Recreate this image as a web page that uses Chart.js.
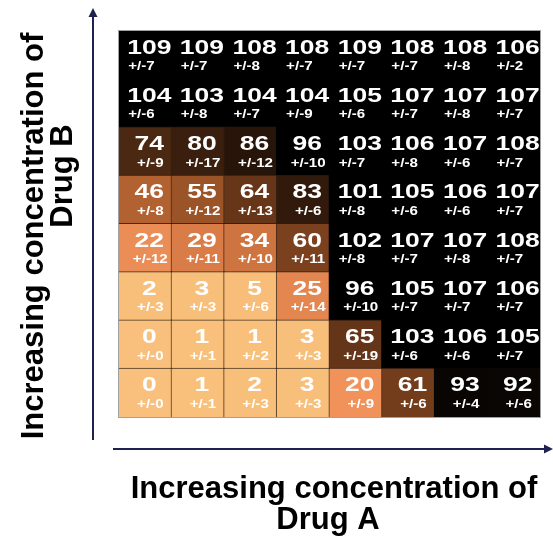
<!DOCTYPE html>
<html lang="en">
<head>
<meta charset="UTF-8">
<title>Drug A / Drug B combination grid</title>
<script src="https://cdn.jsdelivr.net/npm/chart.js"></script>
<style>
  html, body { margin: 0; padding: 0; background: #fff; }
  #wrap { width: 553px; height: 536px; position: relative; }
</style>
</head>
<body>
<div id="wrap"><canvas id="grid" width="553" height="536"></canvas></div>
<script>
// Drug A concentration steps (columns, low -> high)
const drugA = ['A1', 'A2', 'A3', 'A4', 'A5', 'A6', 'A7', 'A8'];
// Drug B concentration steps (rows, listed top = highest)
const drugB = ['B8', 'B7', 'B6', 'B5', 'B4', 'B3', 'B2', 'B1'];

// cell values, one array per row, top row first
const row8 = [109, 109, 108, 108, 109, 108, 108, 106];
const row7 = [104, 103, 104, 104, 105, 107, 107, 107];
const row6 = [74, 80, 86, 96, 103, 106, 107, 108];
const row5 = [46, 55, 64, 83, 101, 105, 106, 107];
const row4 = [22, 29, 34, 60, 102, 107, 107, 108];
const row3 = [2, 3, 5, 25, 96, 105, 107, 106];
const row2 = [0, 1, 1, 3, 65, 103, 106, 105];
const row1 = [0, 1, 2, 3, 20, 61, 93, 92];
const values = [row8, row7, row6, row5, row4, row3, row2, row1];

// +/- spread per cell, same layout
const err8 = [7, 7, 8, 7, 7, 7, 8, 2];
const err7 = [6, 8, 7, 9, 6, 7, 8, 7];
const err6 = [9, 17, 12, 10, 7, 8, 6, 7];
const err5 = [8, 12, 13, 6, 8, 6, 6, 7];
const err4 = [12, 11, 10, 11, 8, 7, 8, 7];
const err3 = [3, 3, 6, 14, 10, 7, 7, 7];
const err2 = [0, 1, 2, 3, 19, 6, 6, 7];
const err1 = [0, 1, 3, 3, 9, 6, 4, 6];
const errors = [err8, err7, err6, err5, err4, err3, err2, err1];

// colour ramp: light orange -> brown -> black
const stops = [
  [0, [248, 192, 124]], [6, [248, 190, 120]], [20, [240, 146, 90]],
  [30, [214, 122, 70]], [46, [178, 98, 48]], [56, [152, 82, 38]],
  [62, [108, 57, 26]], [74, [75, 40, 18]], [86, [40, 21, 9]],
  [92, [10, 6, 4]], [96, [0, 0, 0]], [200, [0, 0, 0]]
];
function cellColor(v) {
  for (let i = 1; i < stops.length; i++) {
    if (v <= stops[i][0]) {
      const [v0, c0] = stops[i - 1], [v1, c1] = stops[i];
      const t = (v - v0) / (v1 - v0);
      const c = c0.map((a, k) => Math.round(a + (c1[k] - a) * t));
      return `rgb(${c[0]},${c[1]},${c[2]})`;
    }
  }
  return '#000';
}

// stacked from the bottom row up, so reverse the row order
const datasets = values.slice().reverse().map((row, i) => ({
  label: drugB[7 - i],
  data: row.map(() => 1),
  vals: row,
  errs: errors[7 - i],
  backgroundColor: row.map(cellColor),
  // dark outlines only show on the lighter cells
  borderColor: row.map(v => v > 88 ? cellColor(v) : 'rgba(45,28,15,0.8)'),
  borderWidth: 1,
  borderSkipped: false,
  inflateAmount: 1,
  categoryPercentage: 1,
  barPercentage: 1
}));

const FONT = '"Liberation Sans", Arial, sans-serif';

const cellText = {
  id: 'cellText',
  afterDatasetsDraw(chart) {
    const ctx = chart.ctx;
    ctx.save();
    ctx.fillStyle = '#fff';
    ctx.textBaseline = 'middle';
    chart.data.datasets.forEach((ds, di) => {
      chart.getDatasetMeta(di).data.forEach((bar, j) => {
        const top = Math.min(bar.y, bar.base);
        const h = Math.abs(bar.base - bar.y);
        const cx = bar.x + 4;
        const num = String(ds.vals[j]);
        const sx = 1.26;
        ctx.font = 'bold 21px ' + FONT;
        const w = ctx.measureText(num).width * sx;
        ctx.save();
        ctx.translate(cx - w / 2, top + h * 0.35);
        ctx.scale(sx, 1);
        ctx.textAlign = 'left';
        ctx.fillText(num, 0, 0);
        ctx.restore();
        const e = '+/-' + ds.errs[j];
        ctx.font = 'bold 12px ' + FONT;
        const we = ctx.measureText(e).width * sx;
        const ex = num.length >= 3 ? cx - w / 2 + 1 : cx - we / 2 + 1;
        ctx.save();
        ctx.translate(ex, top + h * 0.74);
        ctx.scale(sx, 1);
        ctx.fillText(e, 0, 0);
        ctx.restore();
      });
    });
    ctx.restore();
  }
};

const frame = {
  id: 'frame',
  afterDraw(chart) {
    const ctx = chart.ctx;
    const a = chart.chartArea;
    ctx.save();
    // thin grey outline round the grid
    ctx.strokeStyle = 'rgba(120,120,120,0.7)';
    ctx.lineWidth = 1;
    ctx.strokeRect(a.left - 0.5, a.top - 0.5, a.right - a.left + 1, a.bottom - a.top + 1);
    ctx.strokeStyle = '#1f2150';
    ctx.fillStyle = '#1f2150';
    ctx.lineWidth = 2;
    // vertical arrow
    ctx.beginPath(); ctx.moveTo(93, 440); ctx.lineTo(93, 14); ctx.stroke();
    ctx.beginPath(); ctx.moveTo(93, 8); ctx.lineTo(88.5, 17); ctx.lineTo(97.5, 17); ctx.closePath(); ctx.fill();
    // horizontal arrow
    ctx.beginPath(); ctx.moveTo(113, 449); ctx.lineTo(546, 449); ctx.stroke();
    ctx.beginPath(); ctx.moveTo(553, 449); ctx.lineTo(544, 444.5); ctx.lineTo(544, 453.5); ctx.closePath(); ctx.fill();
    // axis titles
    ctx.fillStyle = '#000';
    ctx.font = 'bold 31px ' + FONT;
    ctx.textAlign = 'center';
    ctx.textBaseline = 'middle';
    ctx.fillText('Increasing concentration of', 334, 489);
    ctx.fillText('Drug A', 328, 520);
    ctx.save();
    ctx.translate(34, 236);
    ctx.rotate(-Math.PI / 2);
    ctx.fillText('Increasing concentration of', 0, 0);
    ctx.fillText('Drug B', 60, 29);
    ctx.restore();
    ctx.restore();
  }
};

new Chart(document.getElementById('grid').getContext('2d'), {
  type: 'bar',
  data: { labels: drugA, datasets },
  options: {
    responsive: false,
    animation: false,
    layout: { padding: { left: 119, right: 13, top: 31, bottom: 119 } },
    plugins: { legend: { display: false }, tooltip: { enabled: false } },
    scales: {
      x: { stacked: true, display: false },
      y: { stacked: true, display: false, min: 0, max: 8 }
    }
  },
  plugins: [cellText, frame]
});
</script>
</body>
</html>
